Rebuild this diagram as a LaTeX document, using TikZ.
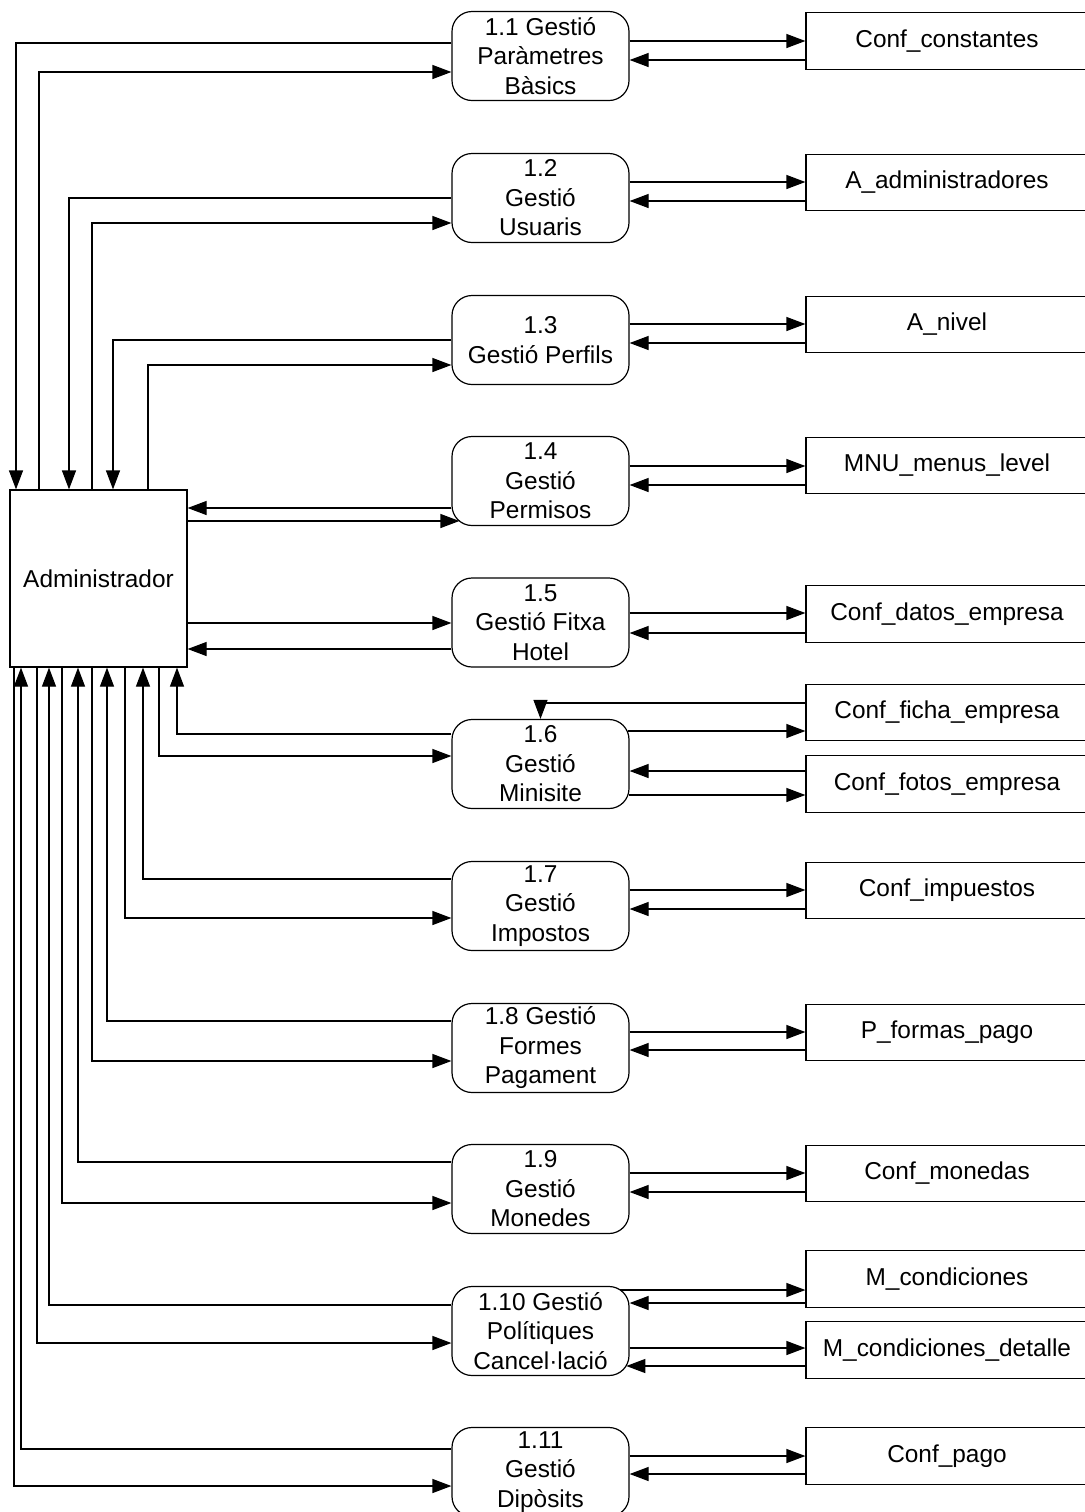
\documentclass[tikz,border=0pt]{standalone}
\usepackage{fontspec}
\setmainfont{Liberation Sans}
\usetikzlibrary{arrows.meta,calc}
\begin{document}
\begin{tikzpicture}[x=0.5pt,y=-0.5pt,
  every node/.style={font=\fontsize{12.2}{14.75}\selectfont},
  proc/.style={draw, rounded corners=10pt, minimum width=88.5pt, minimum height=44.5pt, inner sep=0pt, align=center, line width=0.6pt},
  store/.style={draw, minimum width=141pt, minimum height=28.25pt, inner sep=0pt, line width=0.6pt},
  entity/.style={draw, minimum width=88.5pt, minimum height=88.5pt, inner sep=0pt, line width=0.6pt},
  arr/.style={-{Triangle[length=9.5pt,width=7pt]}, line width=0.6pt}]
\useasboundingbox (0,0) rectangle (1084,1512);

% external entity
\node[entity] (A) at (98.5,578.5) {Administrador};

% processes
\node[proc] (P1) at (540.5,56) {1.1 Gestió\\Paràmetres\\Bàsics};
\node[proc] (P2) at (540.5,198) {1.2\\Gestió\\Usuaris};
\node[proc] (P3) at (540.5,340) {1.3\\Gestió Perfils};
\node[proc] (P4) at (540.5,481) {1.4\\Gestió\\Permisos};
\node[proc] (P5) at (540.5,622.5) {1.5\\Gestió Fitxa\\Hotel};
\node[proc] (P6) at (540.5,764) {1.6\\Gestió\\Minisite};
\node[proc] (P7) at (540.5,906) {1.7\\Gestió\\Impostos};
\node[proc] (P8) at (540.5,1048) {1.8 Gestió\\Formes\\Pagament};
\node[proc] (P9) at (540.5,1189) {1.9\\Gestió\\Monedes};
\node[proc] (P10) at (540.5,1331) {1.10 Gestió\\Polítiques\\Cancel·lació};
\node[proc] (P11) at (540.5,1472) {1.11\\Gestió\\Dipòsits};

% data stores
\node[store] (S1) at (947,41) {Conf\_constantes};
\node[store] (S2) at (947,182.5) {A\_administradores};
\node[store] (S3) at (947,324.5) {A\_nivel};
\node[store] (S4) at (947,465.5) {MNU\_menus\_level};
\node[store] (S5) at (947,614) {Conf\_datos\_empresa};
\node[store] (S6) at (947,712.5) {Conf\_ficha\_empresa};
\node[store] (S7) at (947,784) {Conf\_fotos\_empresa};
\node[store] (S8) at (947,890.5) {Conf\_impuestos};
\node[store] (S9) at (947,1032.5) {P\_formas\_pago};
\node[store] (S10) at (947,1173.5) {Conf\_monedas};
\node[store] (S11) at (947,1279) {M\_condiciones};
\node[store] (S12) at (947,1350) {M\_condiciones\_detalle};
\node[store] (S13) at (947,1456) {Conf\_pago};

% Administrador <-> processes (top side)
\draw[arr] (P1.west |- 0,43) -| (A.north -| 16,0);
\draw[arr] (A.north -| 39,0) |- (P1.west |- 0,72);
\draw[arr] (P2.west |- 0,198) -| (A.north -| 69,0);
\draw[arr] (A.north -| 92,0) |- (P2.west |- 0,223);
\draw[arr] (P3.west |- 0,340) -| (A.north -| 113,0);
\draw[arr] (A.north -| 148,0) |- (P3.west |- 0,365);

% direct
\draw[arr] (P4.west |- 0,508) -- (A.east |- 0,508);
\draw[arr] (A.east |- 0,521) -- ($(P4.west |- 0,521)+(8,0)$);
\draw[arr] (A.east |- 0,623) -- (P5.west |- 0,623);
\draw[arr] (P5.west |- 0,649) -- (A.east |- 0,649);

% bottom side
\draw[arr] (P6.west |- 0,734) -| (A.south -| 177,0);
\draw[arr] (A.south -| 159,0) |- (P6.west |- 0,756);
\draw[arr] (P7.west |- 0,879) -| (A.south -| 143,0);
\draw[arr] (A.south -| 125,0) |- (P7.west |- 0,918);
\draw[arr] (P8.west |- 0,1021) -| (A.south -| 107,0);
\draw[arr] (A.south -| 92,0) |- (P8.west |- 0,1061);
\draw[arr] (P9.west |- 0,1162) -| (A.south -| 78,0);
\draw[arr] (A.south -| 62,0) |- (P9.west |- 0,1203);
\draw[arr] (P10.west |- 0,1305) -| (A.south -| 49,0);
\draw[arr] (A.south -| 37,0) |- (P10.west |- 0,1343);
\draw[arr] (P11.west |- 0,1449) -| (A.south -| 21,0);
\draw[arr] (A.south -| 14,0) |- (P11.west |- 0,1486);

% processes <-> data stores
\draw[arr] (P1.east |- 0,41) -- (S1.west |- 0,41);
\draw[arr] (S1.west |- 0,60) -- (P1.east |- 0,60);
\draw[arr] (P2.east |- 0,182) -- (S2.west |- 0,182);
\draw[arr] (S2.west |- 0,201) -- (P2.east |- 0,201);
\draw[arr] (P3.east |- 0,324) -- (S3.west |- 0,324);
\draw[arr] (S3.west |- 0,343) -- (P3.east |- 0,343);
\draw[arr] (P4.east |- 0,466) -- (S4.west |- 0,466);
\draw[arr] (S4.west |- 0,485) -- (P4.east |- 0,485);
\draw[arr] (P5.east |- 0,613) -- (S5.west |- 0,613);
\draw[arr] (S5.west |- 0,633) -- (P5.east |- 0,633);
\draw[arr] (S6.west |- 0,703) -| (P6.north);
\draw[arr] ($(P6.east |- 0,731)+(-2,0)$) -- (S6.west |- 0,731);
\draw[arr] (S7.west |- 0,771) -- (P6.east |- 0,771);
\draw[arr] ($(P6.east |- 0,795)+(-1,0)$) -- (S7.west |- 0,795);
\draw[arr] (P7.east |- 0,890) -- (S8.west |- 0,890);
\draw[arr] (S8.west |- 0,909) -- (P7.east |- 0,909);
\draw[arr] (P8.east |- 0,1032) -- (S9.west |- 0,1032);
\draw[arr] (S9.west |- 0,1050) -- (P8.east |- 0,1050);
\draw[arr] (P9.east |- 0,1173) -- (S10.west |- 0,1173);
\draw[arr] (S10.west |- 0,1192) -- (P9.east |- 0,1192);
\draw[arr] ($(P10.east |- 0,1290)+(-9.5,0)$) -- (S11.west |- 0,1290);
\draw[arr] (S11.west |- 0,1303) -- (P10.east |- 0,1303);
\draw[arr] (P10.east |- 0,1348) -- (S12.west |- 0,1348);
\draw[arr] (S12.west |- 0,1366) -- ($(P10.east |- 0,1366)+(-3.3,0)$);
\draw[arr] (P11.east |- 0,1456) -- (S13.west |- 0,1456);
\draw[arr] (S13.west |- 0,1474) -- (P11.east |- 0,1474);
\end{tikzpicture}
\end{document}
